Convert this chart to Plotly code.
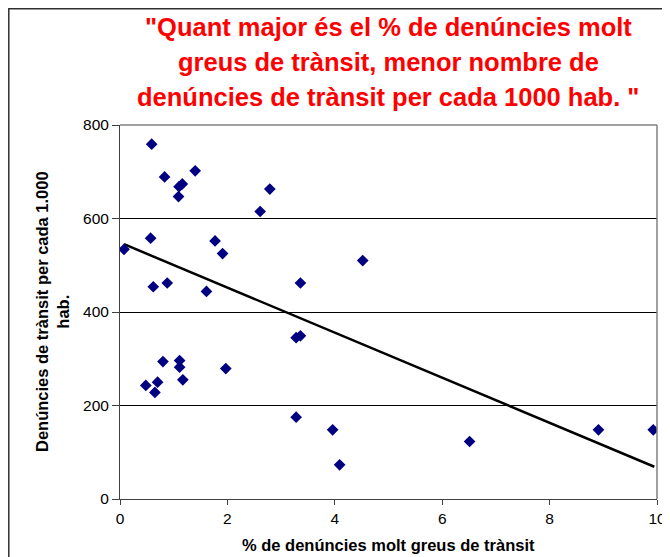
import plotly.graph_objects as go

# Data
pct_molt_greus = [0.59, 0.83, 1.10, 1.16, 1.09, 1.40, 2.79, 2.61, 0.57, 0.075,
                  1.77, 1.91, 0.62, 0.88, 1.61, 3.36, 4.52, 3.28, 3.36, 0.80,
                  1.11, 1.11, 1.97, 0.48, 0.70, 0.65, 1.17, 3.28, 3.96, 4.09,
                  6.51, 8.91, 9.93]
denuncies_1000 = [759, 689, 668, 674, 647, 702, 663, 615, 558, 534,
                  552, 525, 454, 462, 444, 462, 510, 345, 349, 294,
                  296, 282, 279, 243, 250, 228, 255, 175, 148, 73,
                  123, 148, 148]

# Linear trendline as drawn in the chart
trend_intercept = 548.6
trend_slope = -48.2
trend_x = [0.075, 9.95]

x_ticks = [0, 2, 4, 6, 8, 10]
y_ticks = [0, 200, 400, 600, 800]

title_lines = ['"Quant major és el % de denúncies molt',
               'greus de trànsit, menor nombre de',
               'denúncies de trànsit per cada 1000 hab. "']
x_title = "% de denúncies molt greus de trànsit"
y_title = "Denúncies de trànsit per cada 1.000<br>hab."

trend_y = [trend_intercept + trend_slope * v for v in trend_x]

FONT = "Liberation Sans, Arial, sans-serif"

fig = go.Figure()
fig.add_trace(go.Scatter(x=trend_x, y=trend_y, mode="lines",
                         line=dict(color="black", width=2.5),
                         showlegend=False, hoverinfo="skip"))
fig.add_trace(go.Scatter(x=pct_molt_greus, y=denuncies_1000, mode="markers",
                         marker=dict(symbol="diamond", color="#000080", size=9,
                                     line=dict(width=0)),
                         showlegend=False))

# page offset (browser body margin)
OFF = 8
W, H = 670 - OFF, 557 - OFF
L, T = 120 - OFF, 125 - OFF
R = W - (657 - OFF)
B = H - (499 - OFF)
pw = W - L - R
ph = H - T - B


def px_x(p):
    # page pixel -> paper x
    return (p - OFF - L) / pw


def px_y(p):
    # page pixel -> paper y
    return (H - B - (p - OFF)) / ph


title_y_px = [27, 62, 97]
annotations = [
    dict(text=t, xref="paper", yref="paper",
         x=px_x(388), y=px_y(yp), xanchor="center", yanchor="middle",
         showarrow=False, align="center",
         font=dict(family=FONT, size=25.5, color="#FF0000", weight="bold"))
    for t, yp in zip(title_lines, title_y_px)
]
annotations += [
    dict(text=x_title, xref="paper", yref="paper",
         x=px_x(388), y=px_y(545), xanchor="center", yanchor="middle",
         showarrow=False,
         font=dict(family=FONT, size=16.5, color="black", weight="bold")),
    dict(text=y_title, xref="paper", yref="paper", textangle=-90,
         x=px_x(52), y=px_y(312), xanchor="center", yanchor="middle",
         showarrow=False, align="center",
         font=dict(family=FONT, size=16.5, color="black", weight="bold")),
]

fig.update_layout(
    width=W, height=H,
    margin=dict(l=L, r=R, t=T, b=B, autoexpand=False),
    paper_bgcolor="white", plot_bgcolor="white",
    font=dict(family=FONT, color="black", size=15),
    xaxis=dict(range=[0, 10], tickvals=x_ticks, showgrid=False, zeroline=False,
               automargin=False,
               showline=True, linecolor="#404040", linewidth=1,
               ticks="outside", ticklen=5, tickcolor="#404040",
               tickfont=dict(size=15.5)),
    yaxis=dict(range=[0, 800], tickvals=y_ticks, showgrid=True, gridcolor="black",
               gridwidth=1, zeroline=False, automargin=False,
               showline=True, linecolor="#404040", linewidth=1,
               ticks="outside", ticklen=7, tickcolor="#404040",
               tickfont=dict(size=15.5)),
    shapes=[
        dict(type="line", xref="paper", yref="paper", x0=0, x1=1, y0=1, y1=1,
             line=dict(color="#808080", width=1.5), layer="above"),
        dict(type="line", xref="paper", yref="paper", x0=1, x1=1, y0=0, y1=1,
             line=dict(color="#808080", width=1.5), layer="above"),
        dict(type="rect", xref="paper", yref="paper",
             x0=px_x(OFF + 0.8), x1=px_x(700), y0=px_y(600), y1=px_y(OFF + 0.8),
             line=dict(color="#303030", width=1.5), fillcolor="rgba(0,0,0,0)",
             layer="above"),
    ],
    annotations=annotations,
)

fig.write_html("out.html")
